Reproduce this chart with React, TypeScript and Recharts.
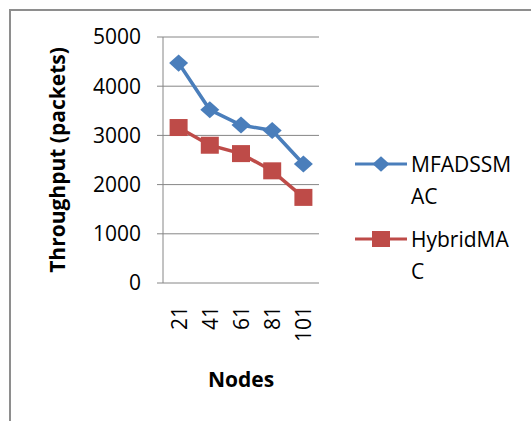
import { LineChart, Line, XAxis, YAxis, CartesianGrid, Legend, Label } from 'recharts';

const nodes = ['21', '41', '61', '81', '101'];
const mfadssmac = [4470, 3520, 3210, 3100, 2420];
const hybridmac = [3160, 2800, 2630, 2280, 1740];
const seriesOrder = ['MFADSSMAC', 'HybridMAC'];
const yTicks = [0, 1000, 2000, 3000, 4000, 5000];

const BLUE = '#4A7EBB';
const RED = '#BE4B48';
const GRID = '#868686';
const FONT = '"Open Sans", sans-serif';

// categories sit in the middle of each band, tick marks on the band edges
const data = nodes.map((n, i) => ({
  pos: i + 0.5,
  node: n,
  MFADSSMAC: mfadssmac[i],
  HybridMAC: hybridmac[i],
}));
const edges = nodes.map((_, i) => i).concat(nodes.length);
const centers = nodes.map((_, i) => i + 0.5);

function Diamond({ cx, cy, size = 9.5 }: any) {
  if (cx == null || cy == null) return <g />;
  const h = size * 0.9;
  return (
    <polygon
      points={`${cx - size},${cy} ${cx},${cy - h} ${cx + size},${cy} ${cx},${cy + h}`}
      fill={BLUE}
    />
  );
}

function Square({ cx, cy, w = 18, h = 17 }: any) {
  if (cx == null || cy == null) return <g />;
  return <rect x={cx - w / 2} y={cy - h / 2} width={w} height={h} fill={RED} />;
}

function NodeTick({ x, y, payload }: any) {
  const label = nodes[Math.floor(payload.value)];
  return (
    <text
      x={x}
      y={y}
      transform={`rotate(-90, ${x}, ${y})`}
      textAnchor="end"
      dominantBaseline="central"
      fontSize={21}
      fontFamily={FONT}
      fill="#000"
    >
      {label}
    </text>
  );
}

function YTitle({ viewBox }: any) {
  const x = viewBox.x + 57;
  const y = viewBox.y + viewBox.height / 2;
  return (
    <text
      x={x}
      y={y}
      transform={`rotate(-90, ${x}, ${y})`}
      textAnchor="middle"
      dominantBaseline="central"
      fontSize={21}
      fontWeight="bold"
      fontFamily={FONT}
      fill="#000"
    >
      Throughput (packets)
    </text>
  );
}

function LegendBox({ payload }: any) {
  const items = [...(payload || [])].sort(
    (a: any, b: any) => seriesOrder.indexOf(a.dataKey) - seriesOrder.indexOf(b.dataKey)
  );
  return (
    <div style={{ width: 180, fontFamily: FONT, fontSize: 21, color: '#000' }}>
      {items.map((entry: any, i: number) => (
        <div key={entry.value} style={{ display: 'flex', alignItems: 'flex-start', marginBottom: i === 0 ? 11 : 0 }}>
          <svg width={53} height={32} style={{ flex: 'none', marginRight: 3 }}>
            <line x1={0} y1={16} x2={52} y2={16} stroke={entry.color} strokeWidth={3} />
            {entry.dataKey === 'MFADSSMAC' ? (
              <Diamond cx={26} cy={16} size={8.5} />
            ) : (
              <Square cx={26} cy={16} w={18} h={16} />
            )}
          </svg>
          <div style={{ width: 108, wordBreak: 'break-all', lineHeight: '32px' }}>{entry.value}</div>
        </div>
      ))}
    </div>
  );
}

export default function App() {
  return (
    <div style={{ position: 'absolute', left: 0, top: 0, width: 531, height: 421, background: '#fff' }}>
      <div
        style={{
          position: 'absolute',
          left: 9,
          top: 9,
          right: 0,
          bottom: 0,
          borderTop: '2px solid #8e8e8e',
          borderLeft: '2px solid #8e8e8e',
        }}
      />
      <LineChart
        width={531}
        height={421}
        data={data}
        margin={{ top: 37, right: 212, bottom: 28, left: 0 }}
        style={{ fontFamily: FONT }}
      >
        <CartesianGrid xAxisId="marks" vertical={false} stroke={GRID} />
        <XAxis
          xAxisId="marks"
          type="number"
          dataKey="pos"
          domain={[0, nodes.length]}
          ticks={edges}
          tickFormatter={() => ''}
          tickSize={7}
          stroke={GRID}
          height={0}
        />
        <XAxis
          xAxisId="labels"
          type="number"
          dataKey="pos"
          domain={[0, nodes.length]}
          ticks={centers}
          tick={<NodeTick />}
          tickLine={false}
          axisLine={false}
          tickSize={0}
          tickMargin={23}
          height={110}
        >
          <Label value="Nodes" position="insideBottom" offset={6} fontSize={21} fontWeight="bold" fill="#000" fontFamily={FONT} />
        </XAxis>
        <YAxis
          width={163}
          domain={[0, 5000]}
          ticks={yTicks}
          interval={0}
          stroke={GRID}
          tickSize={6}
          tickMargin={16}
          tick={{ fill: '#000', fontSize: 21, fontFamily: FONT }}
        >
          <Label content={<YTitle />} />
        </YAxis>
        <Legend
          layout="vertical"
          align="right"
          verticalAlign="middle"
          content={<LegendBox />}
          wrapperStyle={{ left: 355, top: 148, width: 0, height: 0, overflow: 'visible' }}
        />
        <Line
          xAxisId="marks"
          dataKey="MFADSSMAC"
          name="MFADSSMAC"
          stroke={BLUE}
          strokeWidth={3.5}
          dot={(p: any) => <Diamond key={`d${p.index}`} cx={p.cx} cy={p.cy} />}
          activeDot={false}
          isAnimationActive={false}
        />
        <Line
          xAxisId="marks"
          dataKey="HybridMAC"
          name="HybridMAC"
          stroke={RED}
          strokeWidth={3.5}
          dot={(p: any) => <Square key={`s${p.index}`} cx={p.cx} cy={p.cy} />}
          activeDot={false}
          isAnimationActive={false}
        />
      </LineChart>
    </div>
  );
}
